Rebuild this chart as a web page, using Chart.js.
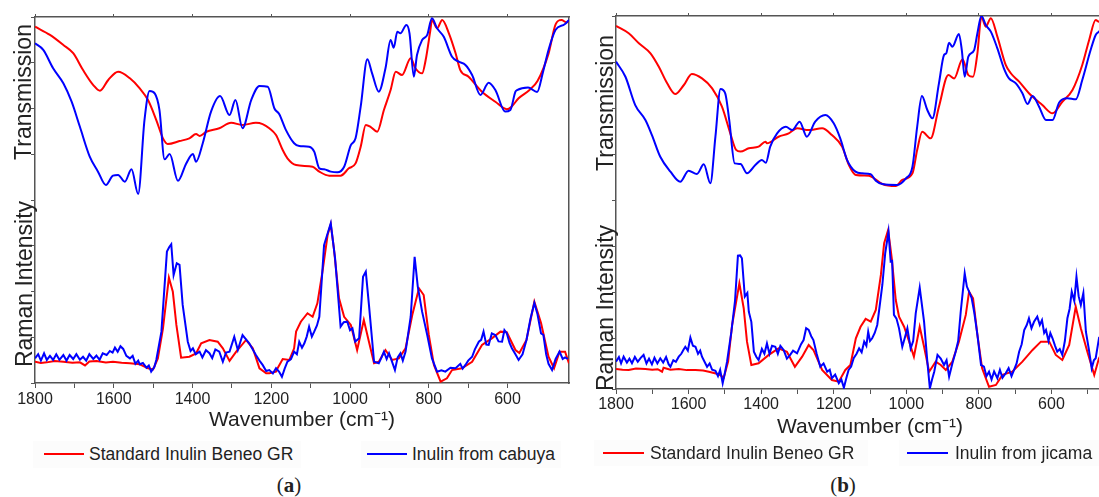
<!DOCTYPE html>
<html>
<head>
<meta charset="utf-8">
<script src="https://cdn.jsdelivr.net/npm/chart.js@4.4.0/dist/chart.umd.min.js"></script>
<style>
  html, body { margin: 0; padding: 0; background: #fff; overflow: hidden; }
  #page { position: relative; width: 1099px; height: 497px; overflow: hidden;
          font-family: "Liberation Sans", Arial, sans-serif; color: #222; }
  canvas { position: absolute; top: 0; }
  .ytitle { position: absolute; font-size: 23px; white-space: nowrap; line-height: 1;
            transform: translate(-50%, -50%) rotate(-90deg); }
  .legbox { position: absolute; background: rgba(0, 0, 0, 0.012); }
  .legline { position: absolute; height: 2px; }
  .legtext { position: absolute; font-size: 17.5px; white-space: nowrap; line-height: 1;
             transform: translateY(-50%); }
  .caption { position: absolute; font-family: "Liberation Serif", "Times New Roman", serif;
             font-size: 21px; line-height: 1; transform: translate(-50%, -50%); }
</style>
</head>
<body>
<div id="page">
  <canvas id="chartA" width="590" height="440" style="left:0px"></canvas>
  <canvas id="chartB" width="560" height="440" style="left:580px"></canvas>

  <div class="ytitle" style="left:23px; top:92px">Transmission</div>
  <div class="ytitle" style="left:24px; top:284px">Raman Intensity</div>
  <div class="ytitle" style="left:605px; top:103px">Transmission</div>
  <div class="ytitle" style="left:605px; top:308px">Raman Intensity</div>

  <div class="legbox" style="left:33px; top:441px; width:268px; height:27px"></div>
  <div class="legbox" style="left:361px; top:441px; width:200px; height:27px"></div>
  <div class="legline" style="left:44px; top:453px; width:40px; background:#ff0000"></div>
  <div class="legtext" style="left:89px; top:455px">Standard Inulin Beneo GR</div>
  <div class="legline" style="left:367px; top:453px; width:40px; background:#0000ff"></div>
  <div class="legtext" style="left:412px; top:455px">Inulin from cabuya</div>

  <div class="legbox" style="left:594px; top:440px; width:274px; height:26px"></div>
  <div class="legbox" style="left:899px; top:440px; width:200px; height:26px"></div>
  <div class="legline" style="left:603px; top:452px; width:41px; background:#ff0000"></div>
  <div class="legtext" style="left:650px; top:454px">Standard Inulin Beneo GR</div>
  <div class="legline" style="left:907px; top:452px; width:41px; background:#0000ff"></div>
  <div class="legtext" style="left:955px; top:454px">Inulin from jicama</div>

  <div class="caption" style="left:289px; top:485px">(<b>a</b>)</div>
  <div class="caption" style="left:843px; top:485px">(<b>b</b>)</div>
</div>

<script>
// wavenumber (cm-1), transmission / raman intensity (arbitrary units)
const aFtirStd = [[1800,94.7],[1762,90.2],[1728,84.7],[1703,80.2],[1678,71],[1652,62.8],[1635,59.7],[1614,65.6],[1589,70.1],[1559,66.5],[1534,61],[1513,54.6],[1492,43.7],[1475,33.7],[1463,30.6],[1433,32.2],[1408,33.7],[1391,36],[1382,35],[1365,37.3],[1332,39.2],[1302,42.2],[1273,41],[1239,42.2],[1222,41.5],[1205,39.2],[1188,35.5],[1171,27.3],[1159,22.8],[1137,19.1],[1095,18.2],[1078,15.5],[1053,13.3],[1024,13.3],[1003,17.3],[986,20],[973,29.1],[960,41],[948,40],[931,37.3],[914,49.2],[897,60.1],[884,70.1],[868,68.3],[846,77.4],[834,72],[817,69.2],[808,76.5],[796,92.9],[792,98.4],[779,93.8],[766,98.4],[749,91.1],[732,80.2],[720,71],[699,67.4],[665,59.2],[631,53.7],[602,49.6],[590,51],[572,55.6],[545,60],[524,65],[496,80],[478,96],[463,98.4],[450,97],[444,98]];
const aFtirCab = [[1800,85.6],[1779,82],[1754,72],[1728,63.8],[1707,53.7],[1686,40],[1661,23.7],[1640,15.5],[1620,8.2],[1602,13.3],[1589,13.7],[1572,10],[1555,16.8],[1538,3.3],[1522,43.7],[1509,59.6],[1496,58.3],[1484,49.2],[1471,22.2],[1458,25.1],[1437,10.5],[1416,20],[1399,25.1],[1391,20.9],[1374,31],[1353,48.3],[1330,56.8],[1306,46.4],[1291,54.6],[1273,39.2],[1251,54.6],[1230,62.3],[1209,61.9],[1192,50],[1180,47],[1163,38.3],[1142,31],[1129,29.5],[1104,29.1],[1091,26.4],[1078,17.3],[1066,16.8],[1049,15.5],[1032,15.1],[1015,18.2],[998,30],[986,33.7],[973,51],[956,76.9],[944,69.2],[927,59.2],[910,72],[897,87.4],[889,83.2],[880,92],[872,91.1],[857,95.6],[849,91.1],[838,67.4],[830,79.2],[817,87.4],[804,90.2],[792,99.3],[779,93.8],[762,89.2],[741,78.3],[724,75.6],[707,73.8],[690,68.3],[669,57.4],[648,64.1],[631,60.1],[606,48.3],[593,49.2],[580,59.2],[576,60],[548,61.5],[525,59],[510,70],[496,82],[478,93],[455,96],[444,98.4]];
const aRamanStd = [[1800,13.3],[1785,12.5],[1770,12.9],[1750,13.8],[1728,13.3],[1705,12.6],[1686,12.9],[1673,11],[1662,13.5],[1644,13.8],[1620,12.8],[1602,13.3],[1580,12.6],[1559,12.3],[1534,11.7],[1513,9.2],[1500,8.5],[1488,15.4],[1475,34.2],[1460,65.8],[1450,57],[1441,36.3],[1429,15.8],[1408,16.4],[1391,18.5],[1378,24.8],[1357,26.9],[1336,25.8],[1323,21.7],[1306,13.8],[1289,19.6],[1264,26.9],[1247,21.7],[1230,9.2],[1213,6.1],[1205,6.1],[1188,7.1],[1184,9.2],[1171,15],[1154,14.4],[1142,21.7],[1137,32.1],[1125,38.3],[1108,43.6],[1095,41.4],[1083,49.8],[1070,69.6],[1057,92.5],[1049,99.2],[1041,84.2],[1028,52.9],[1015,41.4],[998,36.3],[982,20.6],[965,39.4],[952,25.8],[939,12.3],[927,13.3],[910,20.6],[893,14.4],[876,15.4],[859,21.7],[842,42.5],[825,59.2],[813,55],[800,30],[787,11.3],[770,0.8],[754,2.9],[741,8.1],[716,9.2],[690,13.3],[665,23.8],[640,27.9],[618,32.1],[602,31.7],[580,20.6],[570,18.7],[552,26.9],[532,50.8],[515,37.5],[496,16.4],[482,9.2],[468,19.6],[454,19.6],[444,12.3]];
const aRamanCab = [[1800,15.4],[1792,18],[1785,14],[1777,18.5],[1770,14.4],[1762,17],[1754,14.4],[1746,18],[1738,14.5],[1728,17.5],[1720,14],[1712,17.5],[1703,15],[1695,18],[1686,14.5],[1678,16.4],[1670,14],[1662,18],[1652,15],[1644,17.1],[1636,14.5],[1628,18.5],[1618,17.5],[1610,20],[1603,19],[1597,22.1],[1590,19.5],[1583,23],[1576,21.3],[1568,17],[1559,15.4],[1552,17],[1545,12],[1538,14],[1534,11.7],[1526,12.5],[1517,9.6],[1511,11],[1505,7.1],[1497,10],[1492,14.4],[1479,32.1],[1465,82.1],[1459,85],[1454,86.7],[1448,67.5],[1440,74.8],[1433,73.8],[1425,48.8],[1412,25.8],[1405,20],[1399,21.7],[1392,18],[1382,19.6],[1375,16],[1366,20.5],[1357,18.6],[1350,15.5],[1342,21],[1332,19.6],[1323,13.3],[1315,19],[1306,19.6],[1294,28.9],[1285,20.6],[1273,30],[1256,24.8],[1239,17.5],[1230,14],[1222,11.3],[1213,7.5],[1205,8.1],[1196,6],[1188,9.2],[1180,7],[1173,3.9],[1166,9],[1159,13.3],[1150,15],[1142,19.6],[1135,18],[1129,25.8],[1122,22],[1116,24.8],[1110,29],[1104,35.2],[1097,29],[1091,32.1],[1084,36],[1078,41.4],[1066,86.2],[1049,99.8],[1038,77.9],[1024,35.2],[1016,38],[1007,38.3],[1000,33],[994,34.2],[987,25.8],[977,27.9],[967,66.4],[960,69.6],[952,48.8],[939,13.3],[927,12.3],[920,16],[914,19.6],[907,15],[901,18.6],[893,13],[886,8.1],[879,16],[872,18.6],[866,14],[859,19.6],[846,41.4],[836,78.9],[828,60.2],[817,44.6],[804,30],[792,15.4],[779,7.1],[768,8],[758,7.1],[745,9.5],[732,9.2],[720,12],[714,9],[707,11.3],[700,14],[690,16.4],[683,21],[673,25.8],[667,27],[661,32.1],[654,24],[648,23.8],[640,31],[631,30],[623,26],[614,25.8],[608,33],[602,31.1],[595,25],[589,21.7],[580,18],[572,14.4],[562,18],[552,26.9],[542,40],[532,50],[524,43],[515,31],[509,30],[502,18],[496,12],[487,8.1],[478,15],[468,19.6],[460,15],[454,16],[447,15]];

const bFtirStd = [[1800,94.6],[1765,90.6],[1737,85.2],[1705,79.7],[1682,72.4],[1659,63.4],[1637,57.6],[1613,62.5],[1591,68.5],[1563,66.1],[1535,60.7],[1508,50.7],[1485,36.2],[1469,27.2],[1457,26.3],[1434,28.1],[1407,29],[1388,31.7],[1384,30.8],[1352,34.4],[1324,36.2],[1301,39],[1269,38],[1232,39],[1205,35.3],[1177,29],[1158,19],[1139,13.6],[1103,13.2],[1089,11.8],[1066,8.7],[1029,7.6],[1011,10.9],[983,14.5],[970,27.2],[956,37.1],[933,33.5],[910,50.7],[884,67.9],[868,66.1],[845,76.5],[829,67.9],[816,67],[804,79.7],[793,99.6],[781,94.2],[767,98.8],[749,88.8],[726,73.4],[712,68.9],[689,64.3],[662,58],[625,51.6],[597,47.1],[570,53.4],[542,59.8],[515,73.4],[496,87],[478,97.8],[469,96.9],[455,97],[440,97]];
const bFtirJic = [[1800,75.2],[1774,67],[1747,51.6],[1719,43.5],[1701,35.3],[1678,23.5],[1650,15.4],[1623,9.9],[1600,15.9],[1577,14.1],[1558,19.4],[1540,9.1],[1526,34.4],[1512,60.3],[1499,58],[1488,43.5],[1473,19.9],[1457,19.6],[1439,14.5],[1416,19],[1398,21.7],[1387,20.3],[1375,29],[1356,36.2],[1332,39.8],[1314,38],[1294,42.6],[1274,34.4],[1251,42.6],[1223,46.2],[1200,41.7],[1182,33.5],[1163,21.7],[1140,15.4],[1122,14.5],[1098,14],[1084,10.5],[1066,8.7],[1025,8.2],[1001,11.8],[983,18.1],[970,39.8],[957,56.5],[942,48.9],[928,44.4],[910,63.4],[896,78.8],[890,79.7],[882,85.5],[873,83.3],[855,90.2],[847,81.5],[839,67],[829,77.9],[813,81.5],[804,90.6],[793,100],[781,95.1],[767,91.5],[749,82.4],[731,71.6],[717,66.1],[698,63.4],[680,58],[666,52.2],[652,56.5],[634,50.7],[615,43.5],[597,43.5],[579,52.9],[556,55.3],[533,54.7],[515,65.2],[492,81.5],[478,89.7],[469,91.5],[455,95],[440,97]];
const bRamanStd = [[1800,12.5],[1782,12],[1765,11.9],[1745,12.8],[1719,12.5],[1700,12],[1685,12.4],[1673,10.8],[1669,13.3],[1650,12],[1627,12.5],[1605,11.8],[1581,11.9],[1560,11.5],[1544,10.8],[1517,9.2],[1503,7.1],[1491,17.1],[1480,40],[1460,66.1],[1448,50.4],[1439,29.6],[1427,15],[1407,16.1],[1379,21.3],[1352,25.4],[1329,23.3],[1307,13.9],[1287,20.2],[1269,27.5],[1256,24.4],[1232,11.9],[1205,5.6],[1186,4.6],[1168,11.9],[1154,15],[1139,31.7],[1126,38.9],[1112,43.8],[1098,42.1],[1084,49.4],[1070,71.3],[1061,91.1],[1050,99.4],[1040,81.7],[1029,55.6],[1020,45.2],[1006,38.9],[992,29.6],[979,20.2],[963,38.9],[951,26.4],[937,10.8],[919,17.1],[905,15],[891,11.9],[873,17.1],[855,29.6],[836,46.3],[827,60.8],[816,56.7],[804,33.8],[791,12.9],[772,1.4],[753,2.5],[735,8.8],[708,10.8],[680,17.1],[652,24.4],[629,29.6],[606,29.6],[588,21.3],[570,18.1],[551,27.5],[533,51.4],[519,37.9],[501,23.3],[482,8.8],[469,19.2],[455,25],[440,22]];
const bRamanJic = [[1800,17.1],[1792,20],[1786,16],[1779,20.2],[1770,16.5],[1763,19],[1756,16.1],[1748,20],[1740,17],[1732,19.5],[1724,21.3],[1716,16],[1709,19],[1701,15.4],[1694,19.5],[1686,16],[1678,19.2],[1670,16.5],[1662,20],[1655,15.5],[1650,13.9],[1642,18],[1635,17],[1627,20.2],[1620,22],[1614,24.5],[1609,26.4],[1602,24],[1595,32.1],[1588,27],[1581,26.4],[1574,22],[1568,24],[1563,20.2],[1556,17],[1549,13.9],[1542,16],[1535,12],[1526,11.3],[1519,8],[1513,12],[1506,3.6],[1500,10],[1494,17.1],[1482,35.8],[1472,55],[1464,83.3],[1458,83.5],[1453,81.7],[1445,57.7],[1438,60],[1434,48.3],[1427,42],[1420,23.3],[1413,20],[1407,18.1],[1398,25],[1391,22],[1384,28.5],[1377,22],[1370,27],[1361,26.4],[1354,22],[1347,27],[1338,24.4],[1329,19],[1320,21.3],[1312,24],[1301,22.3],[1290,28],[1283,30.6],[1276,38],[1269,36.9],[1262,33],[1256,30.6],[1247,22],[1237,13.9],[1228,16],[1218,10.8],[1211,12],[1205,6.7],[1196,9],[1186,3.6],[1179,6],[1172,0.8],[1165,7],[1159,11.9],[1152,14],[1145,19.2],[1137,22],[1130,25.4],[1123,23],[1116,29.6],[1110,27],[1105,35.8],[1100,30],[1094,31.7],[1087,35],[1080,40],[1066,65],[1058,85],[1049,98.3],[1043,79.6],[1039,80],[1034,46.3],[1027,44],[1020,37.9],[1011,26.4],[1004,32],[997,37.9],[988,25.4],[981,30],[974,47.3],[963,63.3],[951,42.1],[942,17.1],[935,0.4],[929,6],[923,10.8],[914,21.3],[905,19],[896,15],[889,18],[882,7.7],[873,16],[864,23.3],[857,30],[850,48.3],[839,72.3],[833,64],[827,60.8],[820,57],[813,48.3],[804,33.8],[794,15],[786,14],[779,8],[772,10.8],[765,6],[758,11],[749,6.7],[742,12],[735,7],[726,9.8],[718,13],[710,8],[703,11.9],[696,16],[689,23.3],[682,28],[675,36.9],[668,40],[662,44.2],[655,38],[648,42],[639,45.2],[632,40],[626,43],[620,35],[615,36.9],[608,30],[603,35],[597,31.7],[590,27],[584,23.3],[577,25],[570,21.3],[563,30],[556,44.2],[550,50],[544,60.8],[537,55],[531,70.2],[525,58],[519,52.5],[512,60],[505,35.8],[497,25],[489,12.9],[483,18],[478,19.2],[469,31.7],[460,30],[450,28]];

const xTickStep = 100;
const xLabelStep = 200;
const xTitle = 'Wavenumber (cm\u207B\u00B9)';

const red = '#ff0000';
const blue = '#0000ff';
const frame = '#555';
const fontFamily = '"Liberation Sans", Arial, sans-serif';

Chart.defaults.font.family = fontFamily;

function toPoints(pairs) {
	return pairs.map(([x, y]) => ({ x, y }));
}

function buildChart(id, p) {
	const ctx = document.getElementById(id).getContext('2d');
	const border = { color: frame, width: 1.5 };

	return new Chart(ctx, {
		type: 'line',
		data: {
			datasets: [
				{ data: toPoints(p.ftirSample), borderColor: blue, yAxisID: 'yT', cubicInterpolationMode: 'monotone' },
				{ data: toPoints(p.ramanSample), borderColor: blue, yAxisID: 'yR' },
				{ data: toPoints(p.ftirStd), borderColor: red, yAxisID: 'yT', cubicInterpolationMode: 'monotone' },
				{ data: toPoints(p.ramanStd), borderColor: red, yAxisID: 'yR' },
			],
		},
		options: {
			responsive: false,
			animation: false,
			layout: { padding: 0 },
			elements: {
				point: { radius: 0 },
				line: { borderWidth: 2, tension: 0 },
			},
			plugins: {
				legend: { display: false },
				tooltip: { enabled: false },
			},
			scales: {
				x: {
					type: 'linear',
					position: 'bottom',
					reverse: true,
					min: p.xMin,
					max: 1800,
					afterBuildTicks: (s) => {
						s.ticks = s.ticks.filter((t) => t.value % xTickStep === 0);
					},
					ticks: {
						stepSize: xTickStep,
						autoSkip: false,
						maxRotation: 0,
						padding: p.tickPad,
						color: '#222',
						font: { size: 16 },
						callback: (v) => (v % xLabelStep === 0 ? String(v) : ''),
					},
					grid: { drawOnChartArea: false, drawTicks: true, tickLength: 5, color: frame },
					border: border,
					title: {
						display: true,
						text: xTitle,
						color: '#222',
						font: { size: 21 },
						padding: { top: 0, bottom: p.titlePad },
					},
					afterFit: (s) => {
						s.height = p.bottomH;
					},
				},
				x2: {
					type: 'linear',
					position: 'top',
					reverse: true,
					min: p.xMin,
					max: 1800,
					afterBuildTicks: (s) => {
						s.ticks = s.ticks.filter((t) => t.value % xLabelStep === 0);
					},
					ticks: { stepSize: xTickStep, callback: () => '' },
					grid: { drawOnChartArea: false, tickLength: 3, color: frame },
					border: border,
					afterFit: (s) => {
						s.height = p.topH;
					},
				},
				yT: {
					type: 'linear',
					position: 'left',
					min: p.tMin,
					max: 100,
					ticks: { stepSize: 25, callback: () => '' },
					grid: { drawOnChartArea: false, tickLength: 4, color: frame },
					border: border,
					afterFit: (s) => {
						s.width = p.leftW;
					},
				},
				yR: {
					type: 'linear',
					position: 'right',
					min: 0,
					max: p.rMax,
					ticks: { display: false },
					grid: { drawOnChartArea: false, drawTicks: false },
					border: border,
					afterFit: (s) => {
						s.width = p.rightW;
					},
				},
			},
		},
	});
}

buildChart('chartA', {
	ftirStd: aFtirStd, ftirSample: aFtirCab, ramanStd: aRamanStd, ramanSample: aRamanCab,
	xMin: 444, tMin: -100, rMax: 228.75,
	leftW: 35, rightW: 21, topH: 17, bottomH: 57, tickPad: 2, titlePad: 7,
});

buildChart('chartB', {
	ftirStd: bFtirStd, ftirSample: bFtirJic, ramanStd: bRamanStd, ramanSample: bRamanJic,
	xMin: 400, tMin: -102.7, rMax: 233.1,
	leftW: 36, rightW: 16, topH: 16, bottomH: 51, tickPad: 1, titlePad: 0.5,
});
</script>
</body>
</html>
